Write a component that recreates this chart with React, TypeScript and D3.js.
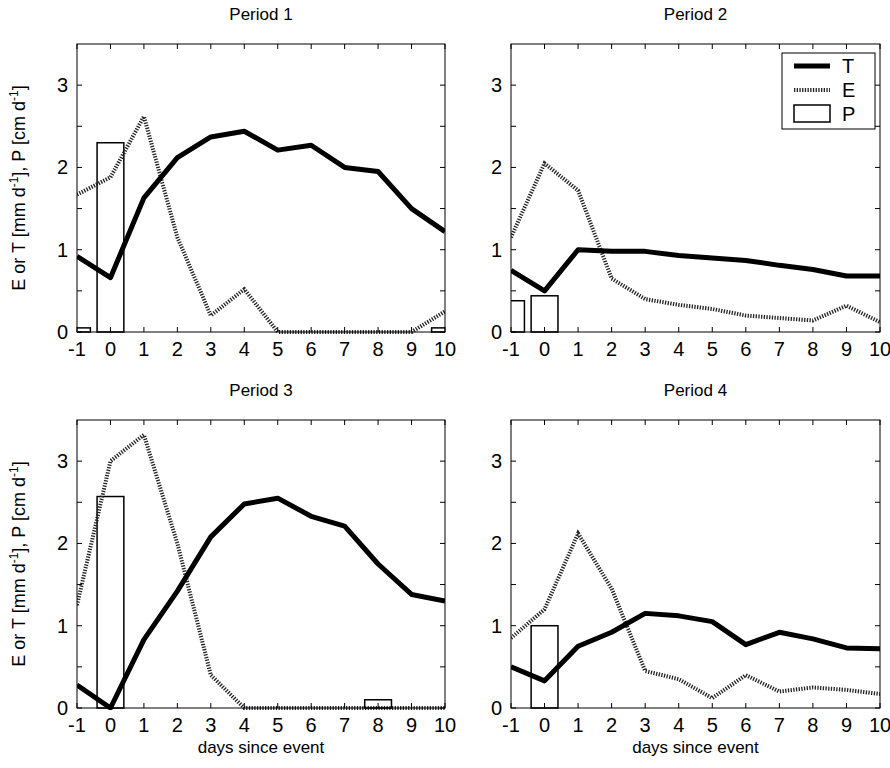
import * as d3 from "d3";

const days = [-1, 0, 1, 2, 3, 4, 5, 6, 7, 8, 9, 10];
const titles = ["Period 1", "Period 2", "Period 3", "Period 4"];
const tValues = [
  [0.92, 0.66, 1.63, 2.12, 2.37, 2.44, 2.21, 2.27, 2.0, 1.95, 1.5, 1.22],
  [0.75, 0.5, 1.0, 0.98, 0.98, 0.93, 0.9, 0.87, 0.81, 0.76, 0.68, 0.68],
  [0.28, 0.0, 0.83, 1.42, 2.08, 2.48, 2.55, 2.33, 2.21, 1.75, 1.38, 1.3],
  [0.5, 0.33, 0.75, 0.92, 1.15, 1.12, 1.05, 0.77, 0.92, 0.84, 0.73, 0.72],
];
const eValues = [
  [1.67, 1.88, 2.62, 1.15, 0.2, 0.52, 0.0, 0.0, 0.0, 0.0, 0.0, 0.25],
  [1.15, 2.05, 1.72, 0.65, 0.4, 0.33, 0.28, 0.2, 0.17, 0.14, 0.32, 0.12],
  [1.25, 3.0, 3.32, 2.0, 0.4, 0.0, 0.0, 0.0, 0.0, 0.0, 0.0, 0.0],
  [0.85, 1.2, 2.12, 1.45, 0.45, 0.35, 0.12, 0.4, 0.2, 0.25, 0.22, 0.17],
];
const pValues = [
  [0.05, 2.3, 0, 0, 0, 0, 0, 0, 0, 0, 0, 0.05],
  [0.38, 0.44, 0, 0, 0, 0, 0, 0, 0, 0, 0, 0],
  [0, 2.57, 0, 0, 0, 0, 0, 0, 0, 0.1, 0, 0],
  [0, 1.0, 0, 0, 0, 0, 0, 0, 0, 0, 0, 0],
];
const yTicks = [0, 1, 2, 3];
const minorY = [0.5, 1.5, 2.5];

const panels = [
  { x0: 77, x1: 445, y0: 44, y1: 332 },
  { x0: 511, x1: 880, y0: 44, y1: 332 },
  { x0: 77, x1: 445, y0: 420, y1: 708 },
  { x0: 511, x1: 880, y0: 420, y1: 708 },
];

const FS = 20;

const Panel = ({ i }: { i: number }) => {
  const p = panels[i];
  const x = d3.scaleLinear().domain([-1, 10]).range([p.x0, p.x1]);
  const y = d3.scaleLinear().domain([0, 3.5]).range([p.y1, p.y0]);
  const line = d3.line<number>().x((_, k) => x(days[k])).y((d) => y(d));
  const clip = `clip${i}`;
  const tk = 5;
  return (
    <g>
      <clipPath id={clip}>
        <rect x={p.x0} y={p.y0} width={p.x1 - p.x0} height={p.y1 - p.y0 + 2} />
      </clipPath>
      <rect x={p.x0} y={p.y0} width={p.x1 - p.x0} height={p.y1 - p.y0} fill="white" />
      <g clipPath={`url(#${clip})`}>
        {pValues[i].map((v, k) => (
          <rect key={k} x={x(days[k] - 0.4)} y={y(v)} width={x(0.8) - x(0)} height={y(0) - y(v)}
            fill="white" stroke="black" strokeWidth={1.5} />
        ))}
        <path d={line(eValues[i]) ?? ""} fill="none" stroke="#222" strokeWidth={4} strokeDasharray="1.3,1.4" />
        <path d={line(tValues[i]) ?? ""} fill="none" stroke="black" strokeWidth={5} strokeLinejoin="round" />
      </g>
      <rect x={p.x0} y={p.y0} width={p.x1 - p.x0} height={p.y1 - p.y0} fill="none" stroke="black" strokeWidth={1} />
      {days.map((d) => (
        <g key={d}>
          <line x1={x(d)} x2={x(d)} y1={p.y1} y2={p.y1 - tk} stroke="black" />
          <line x1={x(d)} x2={x(d)} y1={p.y0} y2={p.y0 + tk} stroke="black" />
          <text x={x(d)} y={p.y1 + 24} textAnchor="middle" fontSize={FS}>{d}</text>
        </g>
      ))}
      {[...yTicks, ...minorY].map((t) => (
        <g key={t}>
          <line x1={p.x0} x2={p.x0 + tk} y1={y(t)} y2={y(t)} stroke="black" />
          <line x1={p.x1} x2={p.x1 - tk} y1={y(t)} y2={y(t)} stroke="black" />
        </g>
      ))}
      {yTicks.map((t) => (
        <text key={t} x={p.x0 - 9} y={y(t) + 7} textAnchor="end" fontSize={FS}>{t}</text>
      ))}
      <text x={(p.x0 + p.x1) / 2} y={p.y0 - 24} textAnchor="middle" fontSize={17}>{titles[i]}</text>
      {i >= 2 && (
        <text x={(p.x0 + p.x1) / 2} y={p.y1 + 45} textAnchor="middle" fontSize={17}>days since event</text>
      )}
      {i % 2 === 0 && (
        <text transform={`translate(${p.x0 - 52},${(p.y0 + p.y1) / 2}) rotate(-90)`} textAnchor="middle" fontSize={18}>
          E or T [mm d<tspan dy={-7} fontSize={12}>-1</tspan><tspan dy={7}>], P [cm d</tspan>
          <tspan dy={-7} fontSize={12}>-1</tspan><tspan dy={7}>]</tspan>
        </text>
      )}
      {i === 1 && (
        <g>
          <rect x={782} y={53} width={93} height={76} fill="white" stroke="black" />
          <line x1={794} x2={830} y1={66} y2={66} stroke="black" strokeWidth={5} />
          <text x={842} y={73} fontSize={FS}>T</text>
          <line x1={794} x2={830} y1={90} y2={90} stroke="#222" strokeWidth={4} strokeDasharray="1.3,1.4" />
          <text x={842} y={97} fontSize={FS}>E</text>
          <rect x={794} y={105} width={36} height={17} fill="white" stroke="black" strokeWidth={1.5} />
          <text x={842} y={121} fontSize={FS}>P</text>
        </g>
      )}
    </g>
  );
};

export default function App() {
  return (
    <svg width={890} height={768} style={{ position: "absolute", left: 0, top: 0, fontFamily: "'Liberation Sans', Arial, sans-serif" }}>
      <rect width={890} height={768} fill="white" />
      {[0, 1, 2, 3].map((i) => <Panel key={i} i={i} />)}
    </svg>
  );
}
